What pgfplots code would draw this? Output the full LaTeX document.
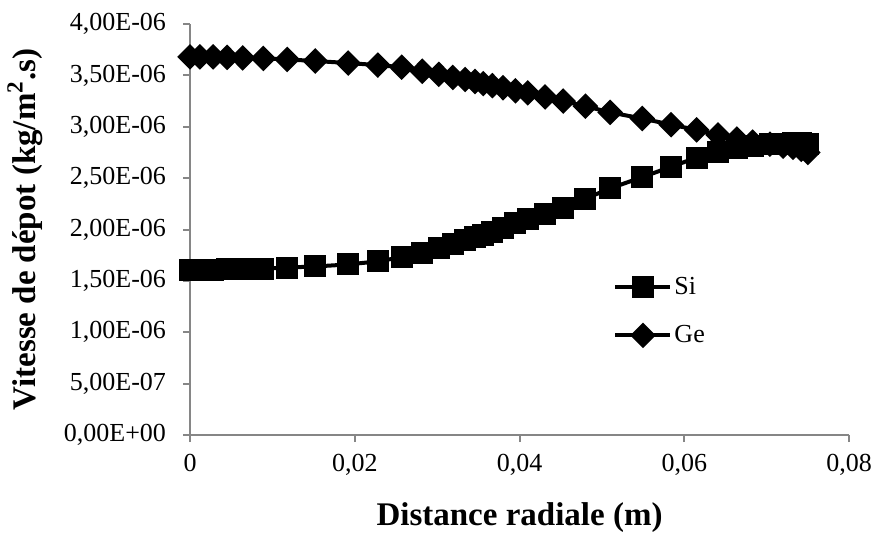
\documentclass[border=0pt]{standalone}
\usepackage{pgfplots}
\pgfplotsset{compat=1.18}
\usepackage{fontspec}
\setmainfont{Liberation Serif}
\definecolor{axgray}{RGB}{134,134,134}

% Si and Ge deposition rate vs radial distance
\pgfplotstableread{
x       si        ge
0       1.610e-6  3.680e-6
0.0012  1.610e-6  3.680e-6
0.0028  1.610e-6  3.680e-6
0.0045  1.612e-6  3.675e-6
0.0064  1.615e-6  3.670e-6
0.0089  1.620e-6  3.665e-6
0.0118  1.630e-6  3.655e-6
0.0152  1.640e-6  3.640e-6
0.0192  1.660e-6  3.620e-6
0.0228  1.690e-6  3.600e-6
0.0257  1.730e-6  3.580e-6
0.0282  1.770e-6  3.540e-6
0.0302  1.820e-6  3.510e-6
0.0319  1.860e-6  3.480e-6
0.0334  1.900e-6  3.460e-6
0.0346  1.930e-6  3.440e-6
0.0356  1.950e-6  3.420e-6
0.0367  1.980e-6  3.400e-6
0.0380  2.010e-6  3.380e-6
0.0395  2.060e-6  3.350e-6
0.0410  2.100e-6  3.330e-6
0.0431  2.150e-6  3.290e-6
0.0453  2.210e-6  3.250e-6
0.0480  2.300e-6  3.200e-6
0.0510  2.400e-6  3.140e-6
0.0549  2.510e-6  3.080e-6
0.0584  2.610e-6  3.020e-6
0.0615  2.700e-6  2.970e-6
0.0641  2.750e-6  2.920e-6
0.0664  2.790e-6  2.880e-6
0.0683  2.810e-6  2.850e-6
0.0704  2.830e-6  2.830e-6
0.0720  2.835e-6  2.810e-6
0.0732  2.840e-6  2.800e-6
0.0742  2.840e-6  2.780e-6
0.0750  2.830e-6  2.750e-6
}\depot

\begin{document}
\begin{tikzpicture}
  \begin{axis}[name=ax,
      scale only axis, width=329.5pt, height=205.5pt,
      xmin=0, xmax=0.08, ymin=0, ymax=4e-6,
      axis x line*=bottom, axis y line*=left,
      axis line style={axgray, line width=1pt},
      tick align=outside, major tick length=3.5pt,
      tick style={axgray, line width=1pt},
      xtick={0,0.02,0.04,0.06,0.08},
      xticklabels={0,{0,02},{0,04},{0,06},{0,08}},
      ytick={0,5e-7,1e-6,1.5e-6,2e-6,2.5e-6,3e-6,3.5e-6,4e-6},
      yticklabels={{0,00E+00},{5,00E-07},{1,00E-06},{1,50E-06},{2,00E-06},
        {2,50E-06},{3,00E-06},{3,50E-06},{4,00E-06}},
      scaled x ticks=false, scaled y ticks=false,
      ticklabel style={font=\fontsize{13}{15}\selectfont},
      xticklabel style={yshift=-2.5pt},
      yticklabel style={xshift=-5pt},
      xlabel={Distance radiale (m)},
      ylabel={Vitesse de dépot (kg/m\textsuperscript{2}.s)},
      label style={font=\bfseries\fontsize{16.5}{18}\selectfont},
      xlabel style={at={(axis description cs:0.5,-0.2017)}, anchor=center},
      ylabel style={at={(axis description cs:-0.2504,0.5)}, anchor=center},
      clip=false,
      legend style={draw=none, fill=none, at={(axis description cs:0.642,0.395)},
        anchor=north west, inner sep=0pt, row sep=10pt,
        font=\fontsize{13}{15}\selectfont, cells={anchor=west},
        nodes={inner xsep=1pt}},
      legend image code/.code={\draw[mark repeat=2,mark phase=2]
        plot coordinates {(0pt,0pt) (13.75pt,0pt) (27.5pt,0pt)};},
    ]
    \addplot[black, line width=2pt, mark=square*, mark size=4.5pt,
      mark options={solid}] table[x=x, y=si] {\depot};
    \addplot[black, line width=2pt, mark=diamond*, mark size=5pt,
      mark options={solid, xscale=1.33}] table[x=x, y=ge] {\depot};
    \legend{Si, Ge}
  \end{axis}
  \pgfresetboundingbox
  \path ([xshift=-95pt, yshift=-55.5pt]ax.south west)
    rectangle ([xshift=11.5pt, yshift=12pt]ax.north east);
\end{tikzpicture}
\end{document}
